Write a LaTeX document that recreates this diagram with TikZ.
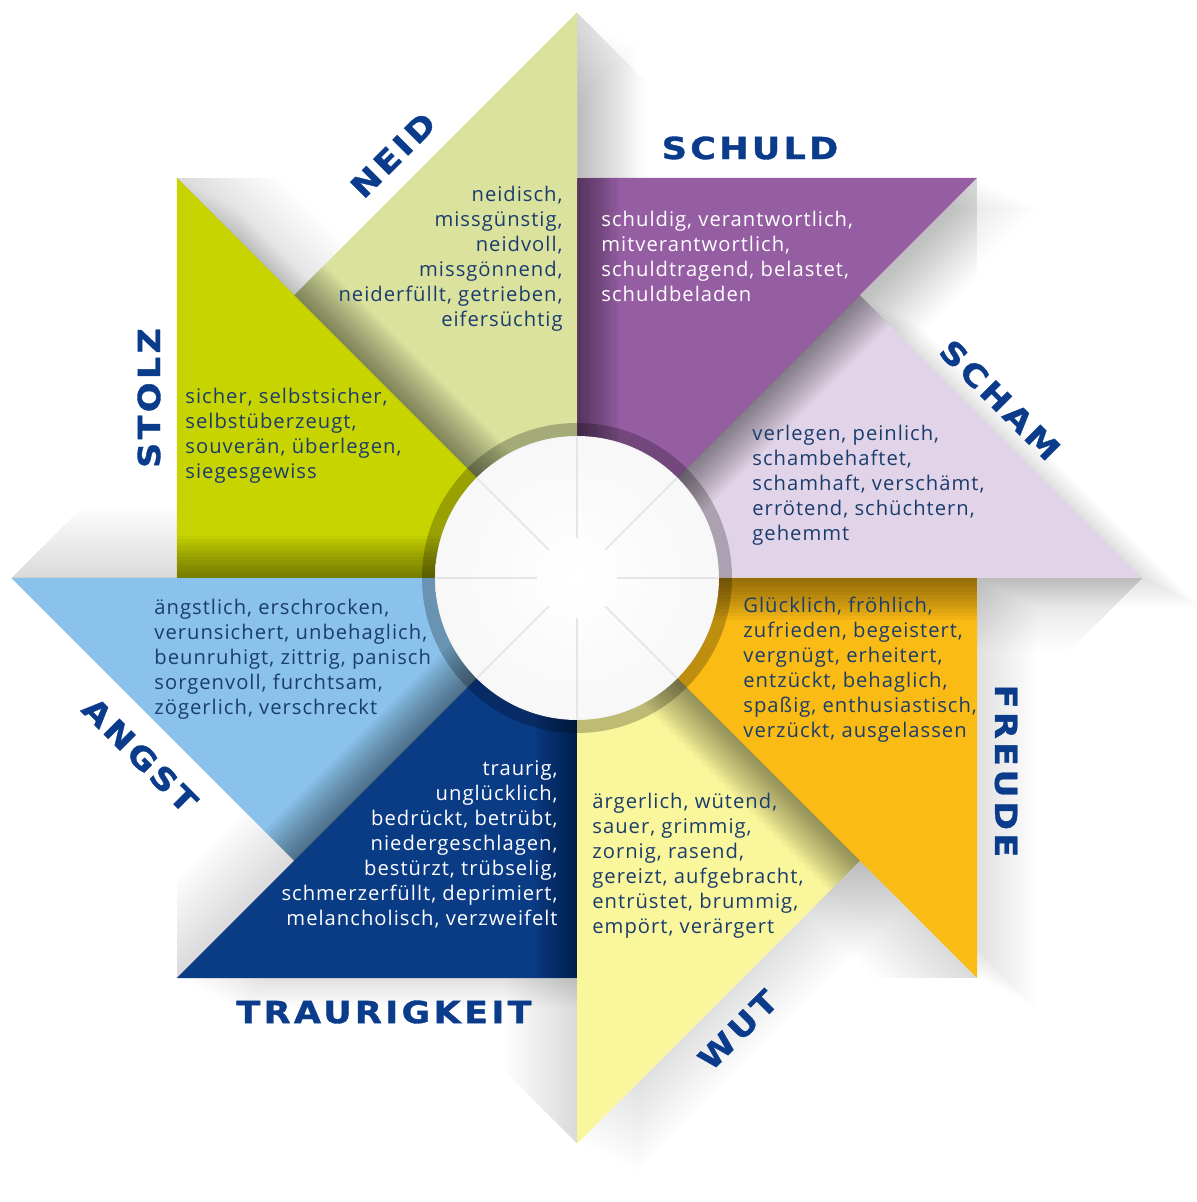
\documentclass[tikz,border=0pt]{standalone}
\usepackage{fontspec}
\setmainfont{Open Sans}[LetterSpace=5]
\newfontfamily\titlefont{DejaVu Sans}[LetterSpace=11,FakeStretch=1.15,FakeBold=1.2]
\definecolor{scham}{HTML}{E2D4E8}
\definecolor{schuld}{HTML}{955EA3}
\definecolor{neid}{HTML}{DAE29E}
\definecolor{stolz}{HTML}{C8D400}
\definecolor{angst}{HTML}{8AC2EB}
\definecolor{trauer}{HTML}{0A3B85}
\definecolor{wut}{HTML}{FAF69B}
\definecolor{freude}{HTML}{FABB14}
\definecolor{titleblue}{HTML}{0B3C8C}
\definecolor{wordblue}{HTML}{1B3D6E}

\begin{document}
\begin{tikzpicture}[x=0.5pt,y=0.5pt,title node/.style={inner sep=0,text=titleblue,font=\titlefont\bfseries\fontsize{15.2pt}{17pt}\selectfont},list node/.style={inner sep=0,text=wordblue,font=\fontsize{10.1pt}{12.5pt}\selectfont}]
            \useasboundingbox (-577,-624) rectangle (619,578);

            \foreach \a in {0,45,...,315}
                \foreach \k in {1,...,15}
                    \fill[black,opacity=0.008,shift={(\k*4,-\k*2)}] (0,0) -- (\a:565.69) -- ({\a+45}:400) -- cycle;

            \foreach \a/\c in {0/scham,45/schuld,90/neid,135/stolz,180/angst,225/trauer,270/wut,315/freude}
                \fill[\c] (0,0) -- (\a:565.69) -- ({\a+45}:400) -- cycle;

            \foreach \a in {0,45,...,315}{
                \foreach \k in {1,...,12}
                    \fill[black,opacity=0.04,rotate=\a] (0,0) rectangle (400,-\k*3.5);
                \foreach \k in {1,...,18}
                    \fill[black,opacity=0.009,rotate=\a] (400,0) -- (565.69,0) -- (565.69-\k*4,-\k*4) -- (400,-\k*4) -- cycle;
            }

            \shade[inner color=white,outer color=black!3] (0,0) circle (142);
            \foreach \a in {0,45,...,315}
                \draw[black!10,line width=0.8pt] (\a:40) -- (\a:141);
            \draw[black,opacity=0.24,line width=6.5pt] (0,0) circle (148.5);

            \node[title node] (1) at (173,430) {SCHULD};
            \node[title node,rotate=-45] (2) at (423,178) {SCHAM};
            \node[title node,rotate=-90] (3) at (429,-193) {FREUDE};
            \node[title node,rotate=45] (4) at (161,-452) {WUT};
            \node[title node] (5) at (-193,-434) {TRAURIGKEIT};
            \node[title node,rotate=-45] (6) at (-437,-177) {ANGST};
            \node[title node,rotate=90] (7) at (-428,180) {STOLZ};
            \node[title node,rotate=45] (8) at (-184,423) {NEID};

            \node[list node,text=white,align=left,anchor=north west] (9) at (24,367) {schuldig, verantwortlich,\\mitverantwortlich,\\schuldtragend, belastet,\\schuldbeladen};
            \node[list node,align=left,anchor=north west] (10) at (175,153) {verlegen, peinlich,\\schambehaftet,\\schamhaft, verschämt,\\errötend, schüchtern,\\gehemmt};
            \node[list node,align=left,anchor=north west] (11) at (166,-19) {Glücklich, fröhlich,\\zufrieden, begeistert,\\vergnügt, erheitert,\\entzückt, behaglich,\\spaßig, enthusiastisch,\\verzückt, ausgelassen};
            \node[list node,align=left,anchor=north west] (12) at (15,-215) {ärgerlich, wütend,\\sauer, grimmig,\\zornig, rasend,\\gereizt, aufgebracht,\\entrüstet, brummig,\\empört, verärgert};
            \node[list node,text=white,align=right,anchor=north east] (13) at (-19,-182) {traurig,\\unglücklich,\\bedrückt, betrübt,\\niedergeschlagen,\\bestürzt, trübselig,\\schmerzerfüllt, deprimiert,\\melancholisch, verzweifelt};
            \node[list node,align=left,anchor=north west] (14) at (-423,-21) {ängstlich, erschrocken,\\verunsichert, unbehaglich,\\beunruhigt, zittrig, panisch\\sorgenvoll, furchtsam,\\zögerlich, verschreckt};
            \node[list node,align=left,anchor=north west] (15) at (-392,190) {sicher, selbstsicher,\\selbstüberzeugt,\\souverän, überlegen,\\siegesgewiss};
            \node[list node,align=right,anchor=north east] (16) at (-14,392) {neidisch,\\missgünstig,\\neidvoll,\\missgönnend,\\neiderfüllt, getrieben,\\eifersüchtig};
        \end{tikzpicture}
\end{document}
